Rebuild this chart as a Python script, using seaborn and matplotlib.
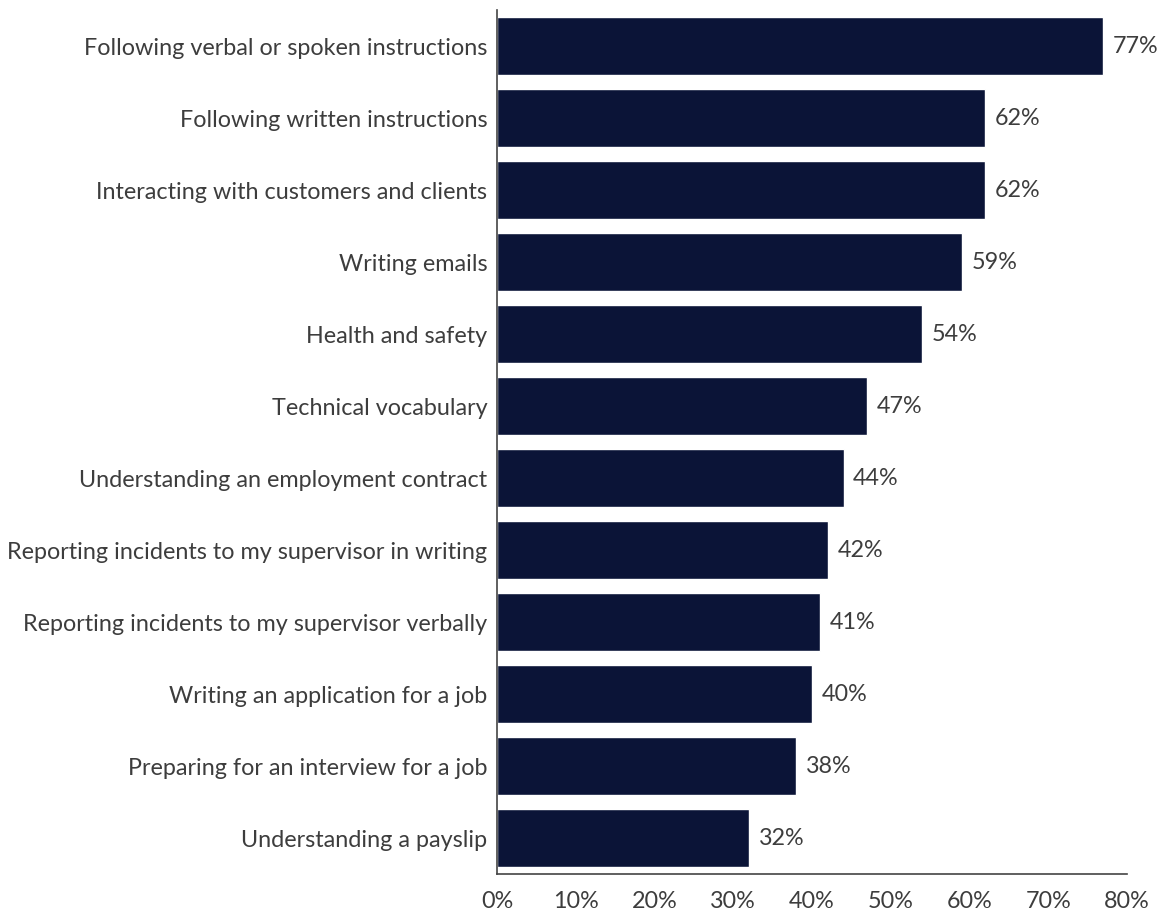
import matplotlib
matplotlib.use("Agg")
import matplotlib.pyplot as plt
import seaborn as sns
import pandas as pd

categories = [
    "Following verbal or spoken instructions",
    "Following written instructions",
    "Interacting with customers and clients",
    "Writing emails",
    "Health and safety",
    "Technical vocabulary",
    "Understanding an employment contract",
    "Reporting incidents to my supervisor in writing",
    "Reporting incidents to my supervisor verbally",
    "Writing an application for a job",
    "Preparing for an interview for a job",
    "Understanding a payslip",
]
values = [77, 62, 62, 59, 54, 47, 44, 42, 41, 40, 38, 32]
x_ticks = [0, 10, 20, 30, 40, 50, 60, 70, 80]

sns.set_theme(style="white")
plt.rcParams["font.family"] = ["Lato", "DejaVu Sans"]

df = pd.DataFrame({"skill": categories, "pct": values})

bar_color = "#0b1437"
text_color = "#3d3d3d"
fs = 16.8

fig = plt.figure(figsize=(11.65, 9.14), dpi=100)
ax = fig.add_axes([497 / 1165, 1 - 874 / 914, 630 / 1165, 864 / 914])

sns.barplot(data=df, x="pct", y="skill", orient="h", color=bar_color,
            width=0.8, saturation=1, ax=ax)

for i, v in enumerate(values):
    ax.annotate(f"{v}%", xy=(v, i), xytext=(7, 0), textcoords="offset points",
                ha="left", va="center", fontsize=fs, color=text_color)

ax.set_xlim(0, 80)
ax.set_ylim(len(categories) - 0.5, -0.5)
ax.set_xticks(x_ticks)
ax.set_xticklabels([f"{t}%" for t in x_ticks])
ax.set_xlabel("")
ax.set_ylabel("")
ax.tick_params(axis="x", length=0, pad=12, labelsize=fs, labelcolor=text_color)
ax.tick_params(axis="y", length=0, pad=7, labelsize=fs, labelcolor=text_color)

for side in ("top", "right"):
    ax.spines[side].set_visible(False)
for side in ("left", "bottom"):
    ax.spines[side].set_color("#444444")
    ax.spines[side].set_linewidth(1.2)

fig.savefig("out.png", dpi=100, facecolor="white")
